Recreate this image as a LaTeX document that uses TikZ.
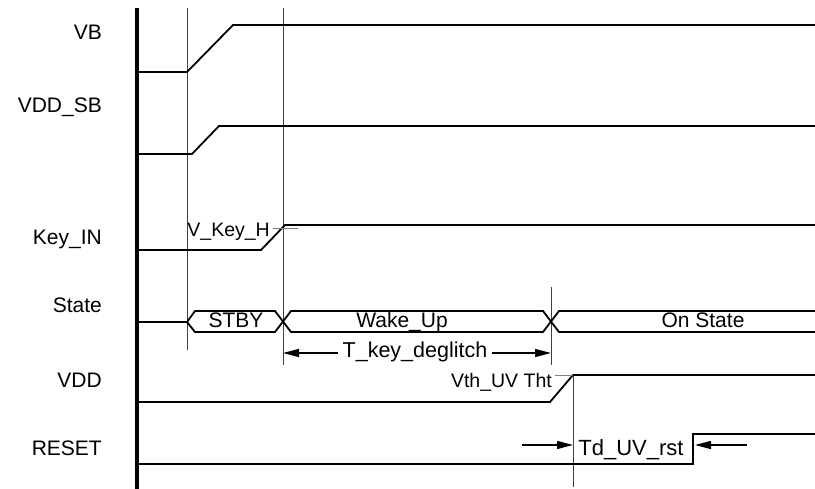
\documentclass[tikz,border=0pt]{standalone}
\usepackage{fontspec}
\setmainfont{Liberation Sans}
\usetikzlibrary{arrows.meta}

\begin{document}
\begin{tikzpicture}[x=1pt,y=-1pt,
	sig/.style={line width=1.8pt},
	guide/.style={black!75,line width=.8pt},
	thr/.style={gray,line width=.8pt},
	lbl/.style={inner sep=0pt,font=\fontsize{21}{25}\selectfont},
	small/.style={inner sep=0pt,font=\fontsize{19.5}{23}\selectfont},
	dim/.style={line width=1.3pt,-{Triangle[length=16pt,width=8pt]}}]
	\useasboundingbox (0,0) rectangle (815,489);
	% time axis
	\draw[line width=3.6pt] (137,8) -- (137,489);
	\foreach \n/\s/\y in {VB/VB/40,VDDSB/VDD\_SB/113,KeyIN/Key\_IN/245,State/State/313,VDD/VDD/388,RESET/RESET/455}
		\node[lbl,anchor=base east] (\n) at (102,\y) {\s};
	% guides
	\draw[guide] (187,8) -- (187,350) (283,8) -- (283,365) (551,287) -- (551,365) (573,374) -- (573,487);
	% waveforms
	\draw[sig] (137,72) -- (187,72) -- (233,25) -- (815,25);
	\draw[sig] (137,154) -- (192,154) -- (219,126) -- (815,126);
	\draw[sig] (137,250) -- (261,250) -- (285,225) -- (815,225);
	\draw[sig] (137,402) -- (550,402) -- (573,375) -- (815,375);
	\draw[sig] (137,464) -- (693,464) -- (693,434) -- (815,434);
	% state bus
	\draw[sig] (137,322) -- (187,322) -- (195,311) -- (275,311) -- (291,332) -- (543,332) -- (559,311) -- (815,311);
	\draw[sig] (187,322) -- (195,332) -- (275,332) -- (291,311) -- (543,311) -- (559,332) -- (815,332);
	\foreach \n/\s/\x in {stby/STBY/236,wake/Wake\_Up/402,on/On State/703}
		\node[lbl,anchor=base] (\n) at (\x,328) {\s};
	% thresholds
	\draw[thr] (273,228) -- (298,228) (555,375) -- (573,375);
	\node[small,anchor=base east] (vkh) at (270,237) {V\_Key\_H};
	\node[small,anchor=base east] (vth) at (552,388) {Vth\_UV Tht};
	% delays
	\path
	(283,353) coordinate (A)
	(551,353) coordinate (B)
	(573,445) coordinate (C)
	(695,445) coordinate (D)
	;
	\node[lbl,font=\fontsize{21.5}{26}\selectfont,inner xsep=4pt,anchor=base] (tkd) at (415,358) {T\_key\_deglitch};
	\draw[dim] (tkd.west |- A) -- (A);
	\draw[dim] (tkd.east |- B) -- (B);
	\node[lbl,font=\fontsize{22}{26}\selectfont,anchor=base] (tdr) at (631,455) {Td\_UV\_rst};
	\draw[dim] ([xshift=-51pt]C) -- (C);
	\draw[dim] ([xshift=52pt]D) -- (D);
\end{tikzpicture}
\end{document}
